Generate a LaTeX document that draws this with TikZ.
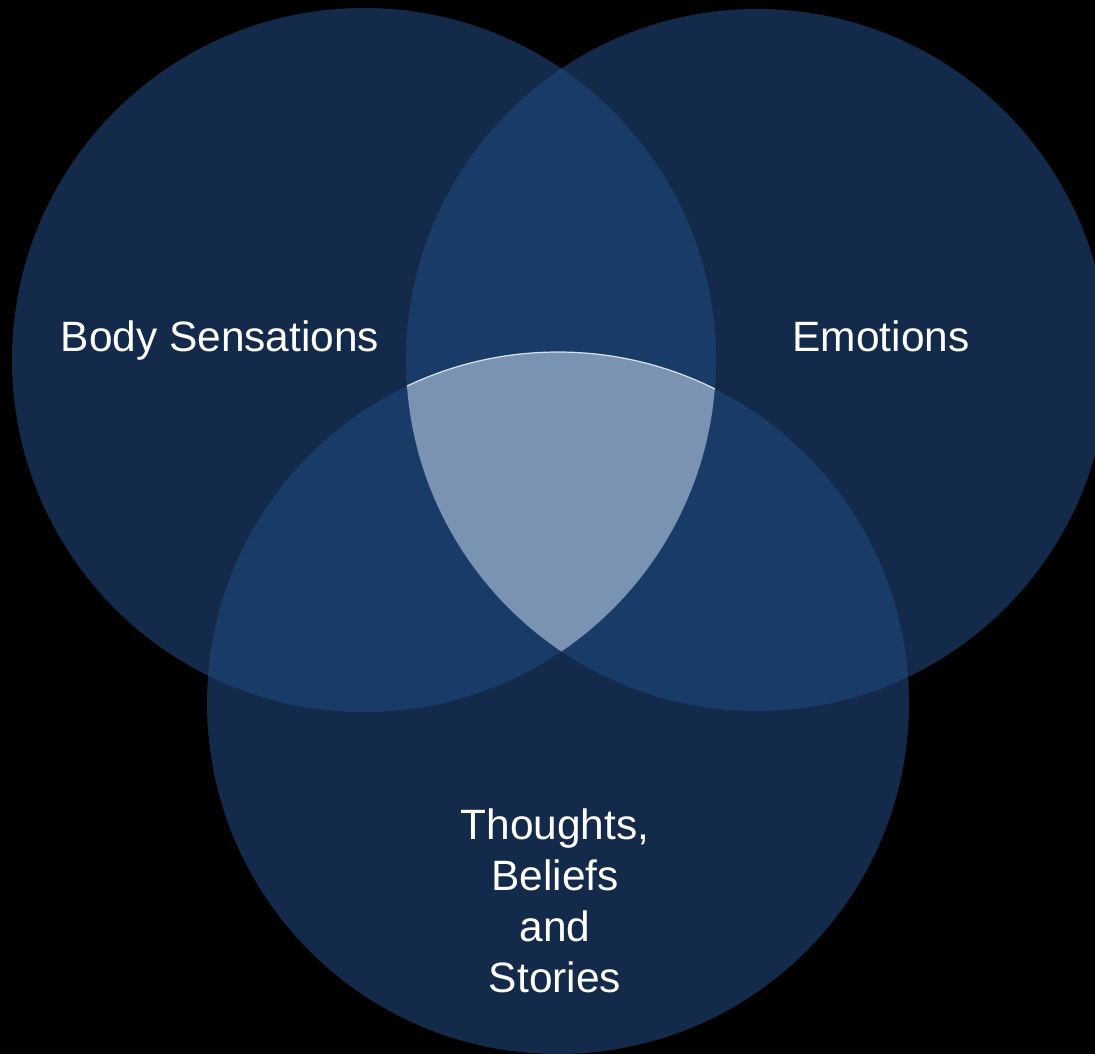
\documentclass[tikz,border=0pt]{standalone}
\usepackage{fontspec}
\setmainfont{Liberation Sans}
\definecolor{vennone}{RGB}{20,42,74}
\definecolor{venntwo}{RGB}{25,59,104}
\definecolor{vennthree}{RGB}{122,147,178}
\begin{document}
\begin{tikzpicture}[x=1bp,y=-1bp,
  lbl/.style={text=white,font=\fontsize{42.6}{51}\selectfont,align=center,inner sep=0pt}]
\clip (0,0) rectangle (1095,1054);
\fill[black] (0,0) rectangle (1095,1054);
\coordinate (cA) at (364,360);
\coordinate (cB) at (757,360);
\coordinate (cC) at (558,703);
% single circles
\fill[vennone] (cA) circle[radius=352];
\fill[vennone] (cB) circle[radius=351];
\fill[vennone] (cC) circle[radius=351];
% pairwise overlaps
\begin{scope}
  \clip (cA) circle[radius=352];
  \fill[venntwo] (cB) circle[radius=351];
  \fill[venntwo] (cC) circle[radius=351];
\end{scope}
\begin{scope}
  \clip (cB) circle[radius=351];
  \fill[venntwo] (cC) circle[radius=351];
\end{scope}
% triple overlap
\begin{scope}
  \clip (cA) circle[radius=352];
  \clip (cB) circle[radius=351];
  \fill[vennthree] (cC) circle[radius=351];
  \draw[white,opacity=0.8,line width=1.2bp] (cC) circle[radius=351];
\end{scope}
% labels
\node[lbl,anchor=base] (body) at (220,351) {Body Sensations};
\node[lbl,anchor=base] (emo) at (881,351) {Emotions};
\node[lbl] (thoughts) at (555,901) {Thoughts,\\Beliefs\\and\\Stories};
\end{tikzpicture}
\end{document}
